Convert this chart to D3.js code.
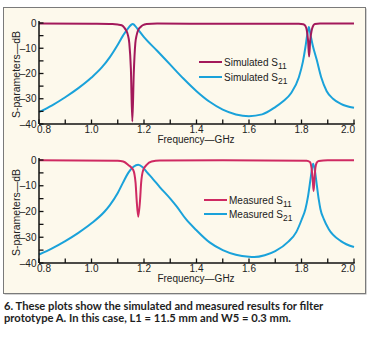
<!DOCTYPE html>
<html>
<head>
<meta charset="utf-8">
<script src="https://cdnjs.cloudflare.com/ajax/libs/d3/7.8.5/d3.min.js"></script>
<style>
    body { margin: 0; background: #fff; }
    svg { display: block; }
</style>
</head>
<body>
<div id="chart"></div>
<script>
// frequency axis (GHz) and tick labels
var xTicks = [0.8, 1.0, 1.2, 1.4, 1.6, 1.8, 2.0];
var yTicks = [0, -10, -20, -30, -40];

// simulated S11 / S21 (dB)
var simS11F = [0.80, 1.00, 1.08, 1.10, 1.115, 1.125, 1.131, 1.138, 1.144, 1.150, 1.1555, 1.161, 1.167, 1.172, 1.178, 1.187, 1.195, 1.21, 1.25, 1.50, 1.79, 1.807, 1.815, 1.820, 1.825, 1.829, 1.833, 1.839, 1.845, 1.851, 1.87, 2.00];
var simS11V = [-0.2, -0.3, -0.4, -0.6, -0.9, -1.8, -2.8, -4.5, -8, -18, -39, -20, -8, -4.8, -2.8, -1.6, -0.9, -0.4, -0.2, -0.3, -0.3, -0.5, -1.2, -2.8, -7, -13.3, -7, -2.8, -1.0, -0.4, -0.2, -0.2];
var simS21F = [0.80, 0.85, 0.90, 0.95, 1.00, 1.04, 1.07, 1.10, 1.12, 1.14, 1.157, 1.175, 1.20, 1.25, 1.30, 1.35, 1.40, 1.45, 1.50, 1.55, 1.60, 1.65, 1.70, 1.73, 1.76, 1.79, 1.805, 1.815, 1.822, 1.828, 1.834, 1.842, 1.858, 1.875, 1.896, 1.92, 1.95, 2.00];
var simS21V = [-35.3, -32.6, -29.4, -25.8, -21.6, -17.5, -13.5, -8.6, -5.0, -2.0, -0.4, -2.3, -5.6, -11.0, -16.5, -22.0, -27.0, -31.2, -34.3, -36.2, -36.9, -36.2, -33.3, -31.0, -27.8, -21.5, -15.5, -9.5, -4.5, -1.6, -4.5, -8.5, -14.6, -21.5, -27.0, -30.0, -32.0, -33.6];

// measured S11 / S21 (dB)
var meaS11F = [0.80, 1.10, 1.121, 1.14, 1.159, 1.168, 1.172, 1.178, 1.185, 1.189, 1.197, 1.21, 1.229, 1.26, 1.50, 1.82, 1.832, 1.838, 1.843, 1.846, 1.849, 1.853, 1.858, 1.866, 1.90, 2.00];
var meaS11V = [-0.1, -0.3, -0.6, -1.9, -3.9, -9, -15.5, -22, -15.5, -9, -3.9, -1.9, -0.6, -0.2, -0.1, -0.3, -0.8, -3, -8, -12, -8, -3, -1.0, -0.4, -0.1, -0.1];
var meaS21F = [0.80, 0.85, 0.90, 0.95, 1.00, 1.05, 1.07, 1.10, 1.12, 1.14, 1.16, 1.178, 1.195, 1.21, 1.235, 1.26, 1.30, 1.325, 1.36, 1.40, 1.45, 1.50, 1.55, 1.60, 1.62, 1.66, 1.70, 1.75, 1.78, 1.80, 1.815, 1.825, 1.835, 1.844, 1.85, 1.858, 1.866, 1.872, 1.885, 1.904, 1.95, 2.00];
var meaS21V = [-36.7, -34.3, -31.5, -28.3, -24.6, -20.0, -17.5, -12.8, -8.8, -5.0, -2.6, -1.8, -2.8, -4.6, -7.5, -10.5, -15.0, -18.1, -23.0, -27.3, -32.0, -35.0, -36.8, -37.6, -37.7, -37.0, -35.4, -31.7, -28.0, -23.3, -19.0, -14.0, -7.0, -1.5, -3.5, -9.5, -15.5, -19.0, -23.0, -26.9, -31.5, -33.8];

var captionLines = [
    "6. These plots show the simulated and measured results for filter",
    "prototype A. In this case, L1 = 11.5 mm and W5 = 0.3 mm."
];

var COLOR_SIM11 = "#a3195b",
    COLOR_MEA11 = "#cf2a62",
    COLOR_S21 = "#1aa2da",
    FONT = "'Liberation Sans', Arial, sans-serif";

var width = 374,
    height = 338;

var svg = d3.select("#chart").append("svg")
    .attr("width", width)
    .attr("height", height);

// panel frame, slightly heavier on right/bottom
svg.append("rect")
    .attr("x", 4.5)
    .attr("y", 8.5)
    .attr("width", 362)
    .attr("height", 286)
    .attr("fill", "#a8a8a8");

svg.append("rect")
    .attr("x", 3.5)
    .attr("y", 7.5)
    .attr("width", 362)
    .attr("height", 286)
    .attr("fill", "#fdf9ec")
    .attr("stroke", "#7a7a7a")
    .attr("stroke-width", 1);

var x = d3.scaleLinear().domain([0.8, 2.0]).range([39, 354]);

function zip(f, v) {
    return f.map(function (d, i) { return [d, v[i]]; });
}

function drawPanel(top, bottom, series, legend) {
    var y = d3.scaleLinear().domain([-40, 0]).range([bottom, top]);
    var g = svg.append("g");

    var line = d3.line()
        .x(function (d) { return x(d[0]); })
        .y(function (d) { return y(d[1]); })
        .curve(d3.curveMonotoneX);

    series.forEach(function (s) {
        g.append("path")
            .datum(zip(s.f, s.v))
            .attr("fill", "none")
            .attr("stroke", s.color)
            .attr("stroke-width", 2)
            .attr("d", line);
    });

    // y axis, ticks point inward
    g.append("line")
        .attr("x1", x(0.8)).attr("x2", x(0.8))
        .attr("y1", y(0) - 2).attr("y2", y(-40))
        .attr("stroke", "#111").attr("stroke-width", 1.5);

    d3.range(0, -41, -5).forEach(function (t) {
        g.append("line")
            .attr("x1", x(0.8)).attr("x2", x(0.8) + 4.5)
            .attr("y1", y(t)).attr("y2", y(t))
            .attr("stroke", "#111").attr("stroke-width", 1.3);
    });

    g.selectAll(".ylab").data(yTicks).enter().append("text")
        .attr("x", 36.5)
        .attr("y", function (d) { return y(d) + 3.5; })
        .attr("text-anchor", "end")
        .style("font-family", FONT)
        .style("font-size", "10px")
        .attr("fill", "#222")
        .text(function (d) { return d < 0 ? "\u2013" + Math.abs(d) : d; });

    // x axis, ticks point up
    g.append("line")
        .attr("x1", x(0.8)).attr("x2", x(2.0) + 0.7)
        .attr("y1", y(-40)).attr("y2", y(-40))
        .attr("stroke", "#111").attr("stroke-width", 1.5);

    d3.range(0, 13).forEach(function (i) {
        var f = 0.8 + i * 0.1;
        g.append("line")
            .attr("x1", x(f)).attr("x2", x(f))
            .attr("y1", y(-40)).attr("y2", y(-40) - 4.5)
            .attr("stroke", "#111").attr("stroke-width", 1.3);
    });

    g.selectAll(".xlab").data(xTicks).enter().append("text")
        .attr("x", function (d, i) {
            var nudge = i === 0 ? 5 : (i === xTicks.length - 1 ? -6 : 0);
            return x(d) + nudge;
        })
        .attr("y", bottom + 9)
        .attr("text-anchor", "middle")
        .style("font-family", FONT)
        .style("font-size", "10px")
        .attr("fill", "#222")
        .text(function (d) { return d.toFixed(1); });

    g.append("text")
        .attr("x", 196)
        .attr("y", bottom + 18.5)
        .attr("text-anchor", "middle")
        .style("font-family", FONT)
        .style("font-size", "10px")
        .attr("fill", "#222")
        .text("Frequency\u2014GHz");

    g.append("text")
        .attr("transform", "translate(19.5," + ((top + bottom) / 2 + 1) + ") rotate(-90)")
        .attr("text-anchor", "middle")
        .style("font-family", FONT)
        .style("font-size", "10.5px")
        .attr("fill", "#222")
        .text("S-parameters\u2014dB");

    // legend
    legend.items.forEach(function (it, i) {
        var ly = legend.y + i * legend.gap;
        g.append("line")
            .attr("x1", legend.x).attr("x2", legend.x + 23)
            .attr("y1", ly).attr("y2", ly)
            .attr("stroke", it.color).attr("stroke-width", 2);
        var t = g.append("text")
            .attr("x", legend.x + 25)
            .attr("y", ly + 3.5)
            .style("font-family", FONT)
            .style("font-size", "10px")
            .attr("fill", "#222")
            .text(it.label + " S");
        t.append("tspan")
            .attr("dy", 3)
            .style("font-size", "8.5px")
            .text(it.sub);
    });
}

drawPanel(23, 124, [
    { f: simS21F, v: simS21V, color: COLOR_S21 },
    { f: simS11F, v: simS11V, color: COLOR_SIM11 }
], {
    x: 199, y: 62, gap: 15,
    items: [
        { label: "Simulated", sub: "11", color: COLOR_SIM11 },
        { label: "Simulated", sub: "21", color: COLOR_S21 }
    ]
});

drawPanel(160, 263, [
    { f: meaS21F, v: meaS21V, color: COLOR_S21 },
    { f: meaS11F, v: meaS11V, color: COLOR_MEA11 }
], {
    x: 204, y: 200, gap: 14,
    items: [
        { label: "Measured", sub: "11", color: COLOR_MEA11 },
        { label: "Measured", sub: "21", color: COLOR_S21 }
    ]
});

svg.selectAll(".caption").data(captionLines).enter().append("text")
    .attr("x", 4)
    .attr("y", function (d, i) { return 310 + i * 11.5; })
    .style("font-family", "Lato, 'Open Sans', sans-serif")
    .style("font-weight", 700)
    .style("font-size", "11.2px")
    .attr("fill", "#1e1e1e")
    .text(function (d) { return d; });
</script>
</body>
</html>
